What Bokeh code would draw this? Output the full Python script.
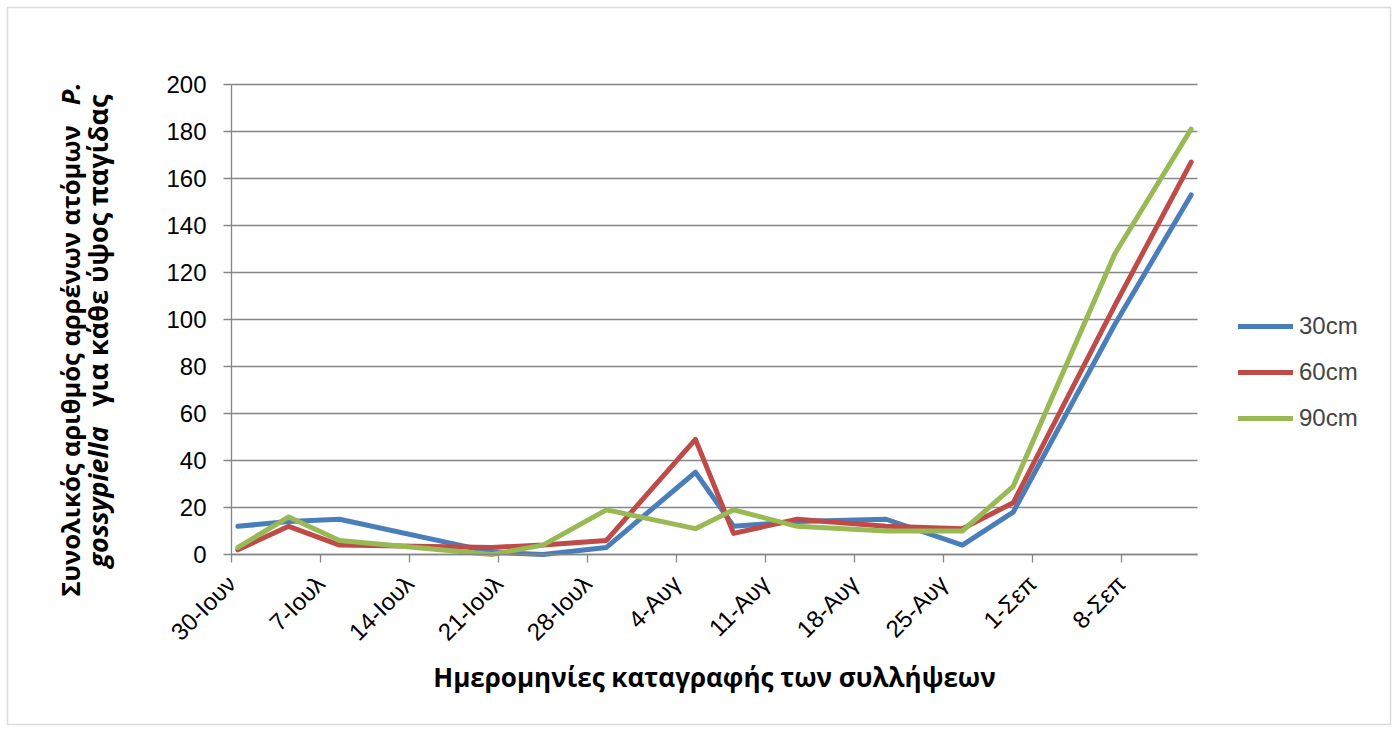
from math import pi

import pandas as pd
from bokeh.embed import file_html
from bokeh.models import BoxAnnotation, FixedTicker, Grid, Label, Legend, LegendItem, Range1d
from bokeh.plotting import figure
from bokeh.resources import INLINE

# Trap inspection dates and male P. gossypiella caught per trap height
dates = ["2012-06-30", "2012-07-04", "2012-07-08", "2012-07-20", "2012-07-24",
         "2012-07-29", "2012-08-05", "2012-08-08", "2012-08-13", "2012-08-20",
         "2012-08-26", "2012-08-30", "2012-09-07", "2012-09-13"]
males_30cm = [12, 14, 15, 1, 0, 3, 35, 12, 14, 15, 4, 18, 98, 153]
males_60cm = [2, 12, 4, 3, 4, 6, 49, 9, 15, 12, 11, 22, 106, 167]
males_90cm = [3, 16, 6, 0, 4, 19, 11, 19, 12, 10, 10, 29, 128, 181]
series_labels = ["30cm", "60cm", "90cm"]
series_colors = ["#4A7EBB", "#BE4B48", "#98B954"]
tick_labels = ["30-Ιουν", "7-Ιουλ", "14-Ιουλ", "21-Ιουλ", "28-Ιουλ", "4-Αυγ",
               "11-Αυγ", "18-Αυγ", "25-Αυγ", "1-Σεπ", "8-Σεπ"]
y_ticks = [0, 20, 40, 60, 80, 100, 120, 140, 160, 180, 200]

# Day axis: each date occupies a one-day slot, points sit in the middle of it
day_index = pd.to_datetime(dates)
days = [(d - day_index[0]).days for d in day_index]
x_pos = [d + 0.5 for d in days]
n_days = days[-1] + 1
tick_pos = [7 * i for i in range(len(tick_labels))]
y_max = y_ticks[-1]

W, H = 1397, 731
FL, FT, FR, FB = 231, 84, 1197, 554  # chart area inside the canvas, pixels


def cx(sx):
    return (sx - FL) * n_days / (FR - FL)


def cy(sy):
    return (FB - sy) * y_max / (FB - FT)


# The frame spans the whole canvas so that titles, legend and border
# can be placed freely; the axes are pinned at the chart origin.
p = figure(width=W, height=H, output_backend="svg", toolbar_location=None,
           x_range=Range1d(cx(0), cx(W)), y_range=Range1d(cy(H), cy(0)),
           min_border=0, min_border_left=0, min_border_right=0,
           min_border_top=0, min_border_bottom=0)
p.outline_line_color = None
p.background_fill_color = "white"
p.border_fill_color = "white"

grid_grey = "#868686"
p.xgrid.grid_line_color = None
p.ygrid.grid_line_color = grid_grey
p.ygrid.grid_line_width = 1.3
p.ygrid.ticker = FixedTicker(ticks=y_ticks)
if "cross_bounds" in Grid.properties():
    p.ygrid.cross_bounds = (0, n_days)

tick_font_size = "24px"
for ax in (p.xaxis[0], p.yaxis[0]):
    ax.axis_line_color = grid_grey
    ax.axis_line_width = 1.3
    ax.major_tick_line_color = grid_grey
    ax.major_tick_line_width = 1.3
    ax.major_tick_in = 0
    ax.major_tick_out = 8
    ax.minor_tick_line_color = None
    ax.major_label_text_font = "Liberation Sans"
    ax.major_label_text_font_size = tick_font_size
    ax.major_label_text_color = "black"

p.yaxis.fixed_location = 0
p.yaxis.bounds = (0, y_max)
p.yaxis.ticker = FixedTicker(ticks=y_ticks)
p.yaxis.major_label_standoff = 17

p.xaxis.fixed_location = 0
p.xaxis.bounds = (0, n_days)
p.xaxis.ticker = FixedTicker(ticks=tick_pos)
p.xaxis.major_label_overrides = {t: lab for t, lab in zip(tick_pos, tick_labels)}
p.xaxis.major_label_orientation = pi / 4
p.xaxis.major_label_standoff = 17

renderers = []
for vals, color in zip([males_30cm, males_60cm, males_90cm], series_colors):
    r = p.line(x_pos, vals, line_color=color, line_width=5,
               line_join="round", line_cap="round")
    renderers.append(r)

legend = Legend(
    items=[LegendItem(label=lab, renderers=[r]) for lab, r in zip(series_labels, renderers)],
    location=(1238, H - 433),
    glyph_width=55, glyph_height=30, label_height=30, spacing=16,
    padding=0, margin=0, label_standoff=6,
    border_line_color=None, background_fill_alpha=0,
    label_text_font="Liberation Sans", label_text_font_size=tick_font_size,
)
p.add_layout(legend)

title_font = "Open Sans"

p.add_layout(Label(x=cx(714), y=cy(676), text="Ημερομηνίες καταγραφής των συλλήψεων",
                   text_align="center", text_baseline="alphabetic",
                   text_font=title_font, text_font_size="26px",
                   text_font_style="bold", text_color="black"))

# Two-line rotated y title with the species name in italics
y_title_parts = [
    ("Συνολικός αριθμός αρρένων ατόμων", 69, 596, "left", "bold", "25.5px"),
    ("P.", 69, 82, "right", "bold italic", "25.5px"),
    ("gossypiella", 97, 567, "left", "bold italic", "27px"),
    ("για κάθε ύψος παγίδας", 97, 94, "right", "bold", "27px"),
]
for txt, sx, sy, align, style, size in y_title_parts:
    p.add_layout(Label(x=cx(sx), y=cy(sy), text=txt, angle=pi / 2,
                       text_align=align, text_baseline="alphabetic",
                       text_font=title_font, text_font_size=size,
                       text_font_style=style, text_color="black"))

p.add_layout(BoxAnnotation(left=cx(7), right=cx(1390), top=cy(7), bottom=cy(724),
                           fill_alpha=0, line_color="#898989", line_width=1.5))

open("out.html", "w").write(file_html(p, INLINE))
